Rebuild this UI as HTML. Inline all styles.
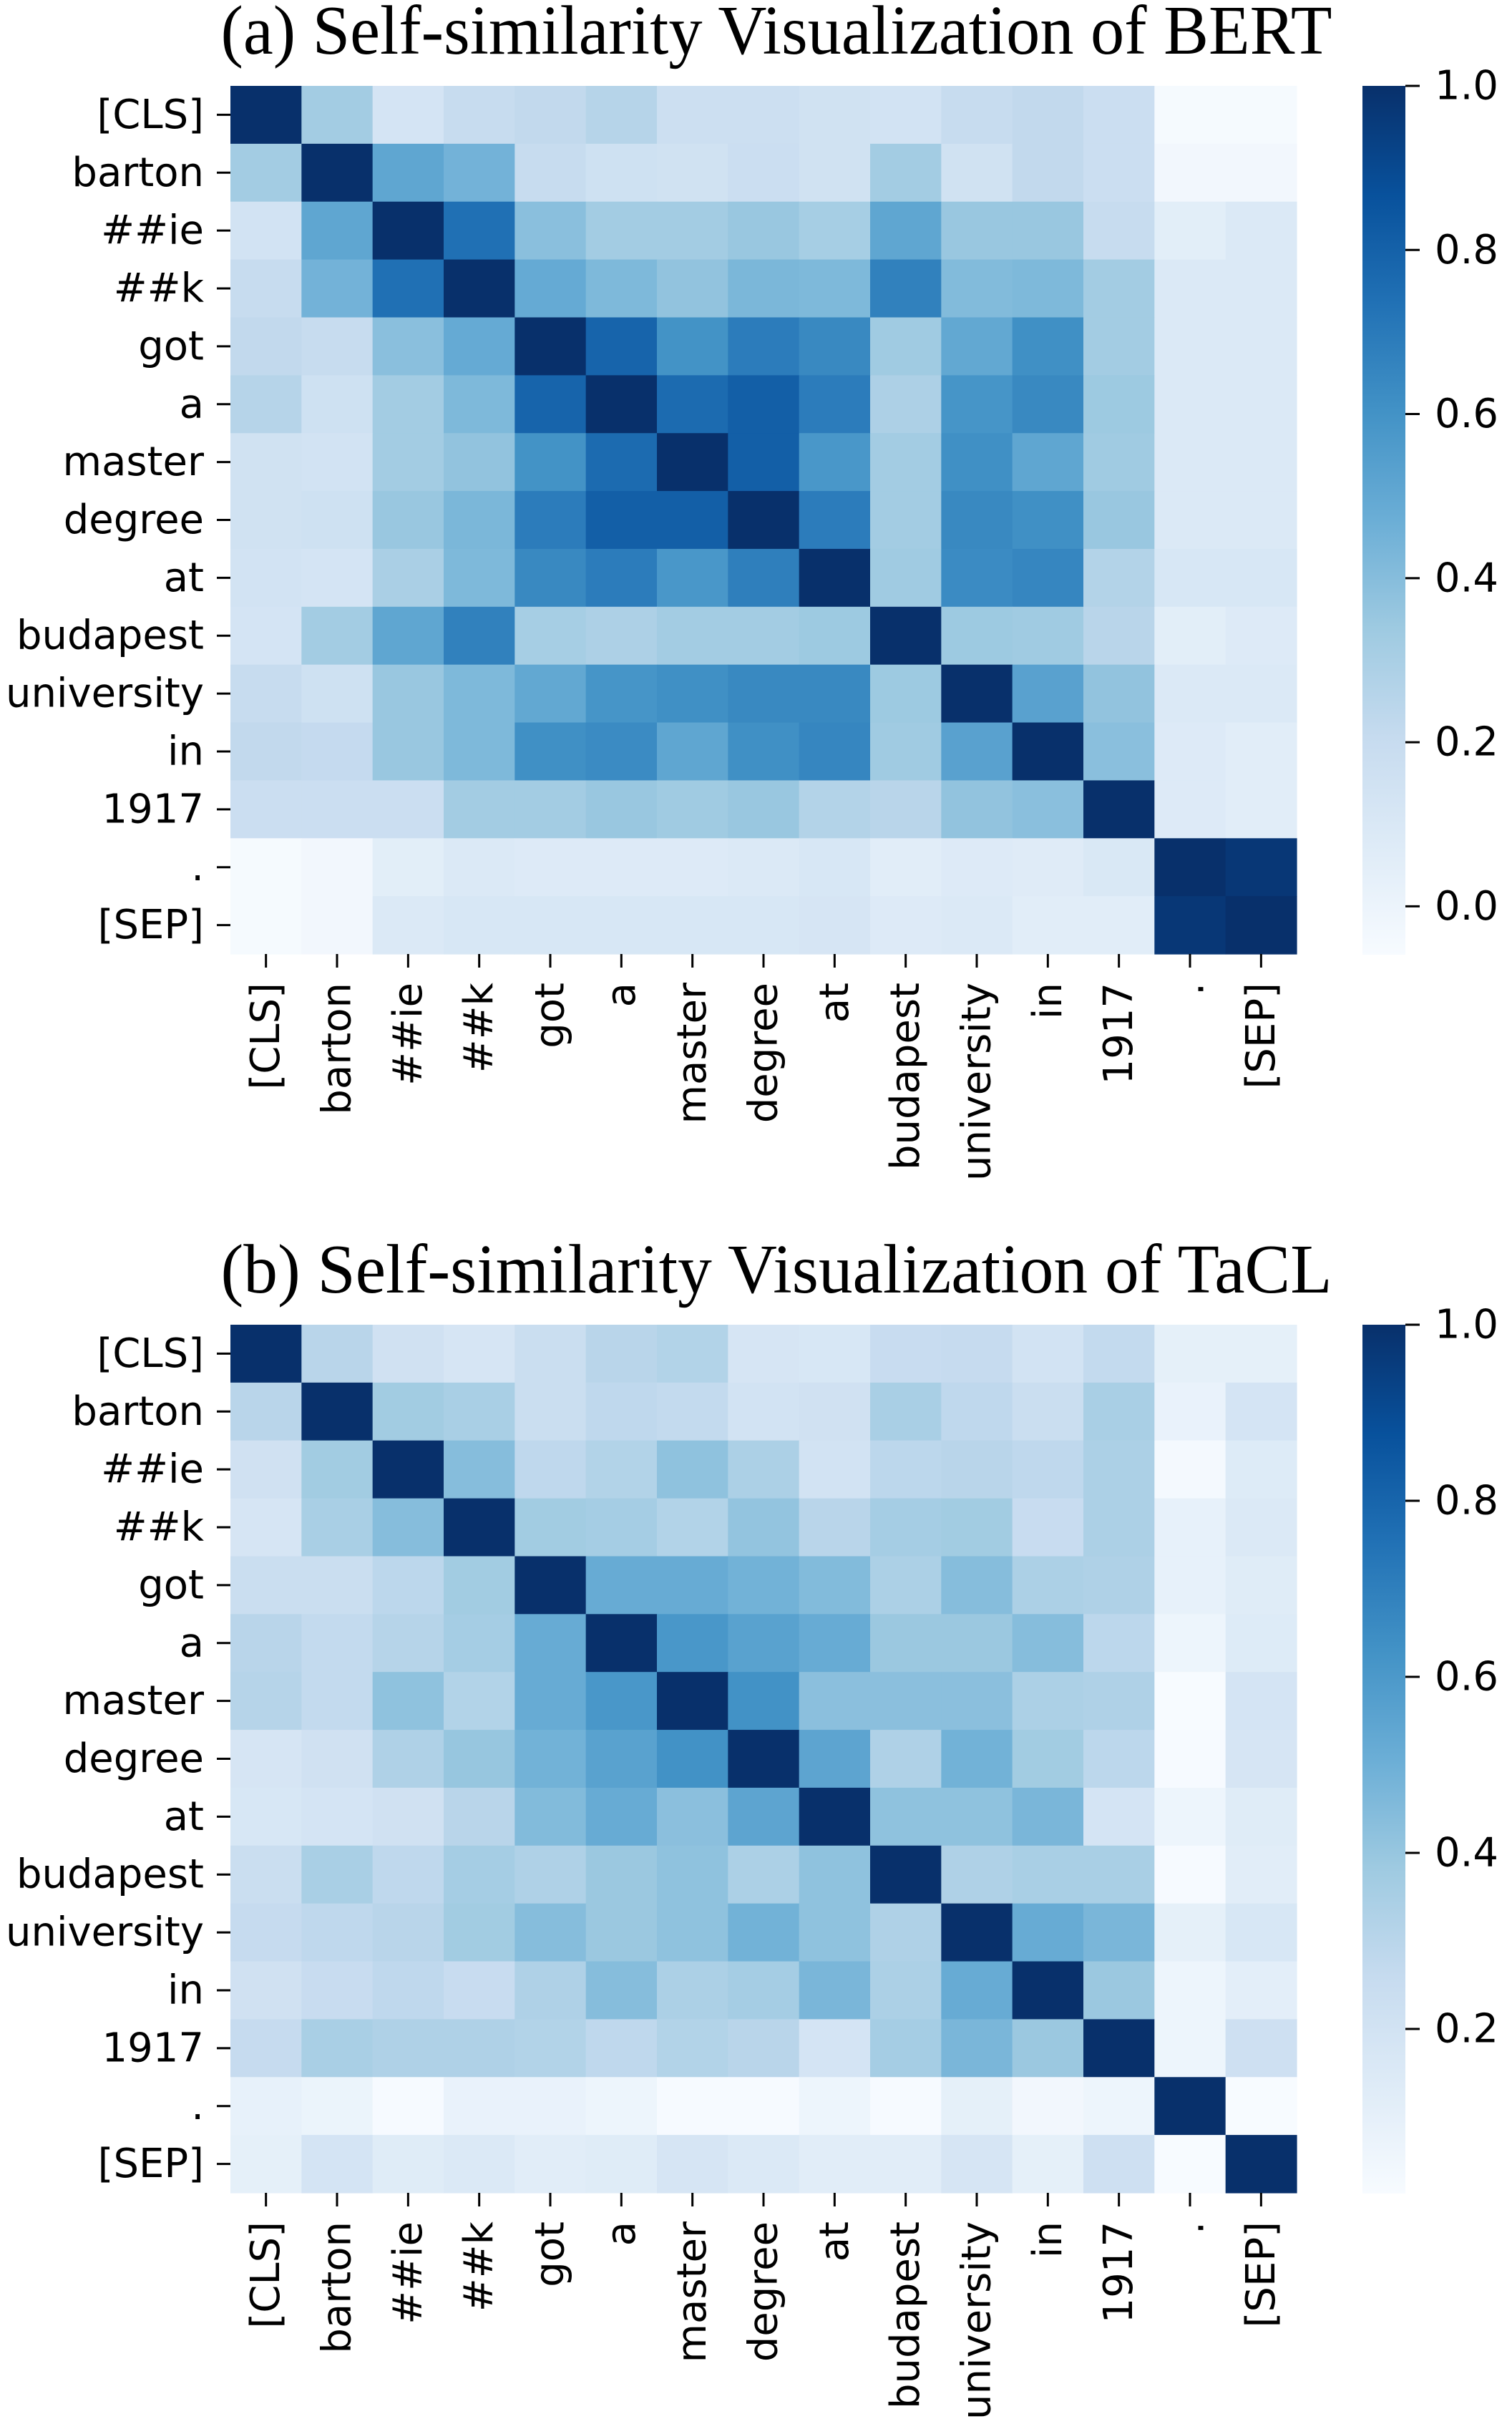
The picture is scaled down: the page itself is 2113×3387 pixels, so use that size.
<!DOCTYPE html>
<html><head><meta charset="utf-8"><style>
html,body{margin:0;padding:0;background:#fff;}
svg{display:block;}
.lbl{font-family:"DejaVu Sans","Liberation Sans",sans-serif;font-size:56px;fill:#000;}
.ttl{font-family:"Liberation Serif",serif;font-size:98px;fill:#000;}
</style></head><body>
<svg id="fig" xmlns="http://www.w3.org/2000/svg" width="2113" height="3387" viewBox="0 0 2113 3387">
<defs>
<linearGradient id="blues" x1="0" y1="1" x2="0" y2="0">
<stop offset="0" stop-color="rgb(247,251,255)"/><stop offset="0.125" stop-color="rgb(222,235,247)"/>
<stop offset="0.25" stop-color="rgb(198,219,239)"/><stop offset="0.375" stop-color="rgb(158,202,225)"/>
<stop offset="0.5" stop-color="rgb(107,174,214)"/><stop offset="0.625" stop-color="rgb(66,146,198)"/>
<stop offset="0.75" stop-color="rgb(33,113,181)"/><stop offset="0.875" stop-color="rgb(8,81,156)"/>
<stop offset="1" stop-color="rgb(8,48,107)"/>
</linearGradient>
</defs>
</svg>
<script>
const tokens = ["[CLS]","barton","##ie","##k","got","a","master","degree","at","budapest","university","in","1917",".","[SEP]"];
const bertValues = [
[1,0.32,0.13,0.20,0.22,0.26,0.17,0.17,0.15,0.14,0.20,0.22,0.18,-0.05,-0.05],
[0.32,1,0.51,0.45,0.20,0.16,0.15,0.18,0.15,0.32,0.15,0.22,0.18,-0.03,-0.03],
[0.14,0.51,1,0.74,0.39,0.32,0.32,0.35,0.31,0.51,0.35,0.35,0.20,0.05,0.09],
[0.20,0.45,0.74,1,0.49,0.42,0.37,0.43,0.42,0.67,0.41,0.42,0.32,0.09,0.09],
[0.22,0.20,0.39,0.49,1,0.79,0.60,0.69,0.64,0.33,0.50,0.61,0.32,0.09,0.09],
[0.26,0.16,0.32,0.42,0.79,1,0.76,0.81,0.69,0.29,0.59,0.64,0.34,0.09,0.09],
[0.15,0.14,0.32,0.37,0.60,0.76,1,0.81,0.58,0.32,0.61,0.51,0.33,0.09,0.09],
[0.15,0.16,0.35,0.43,0.69,0.81,0.81,1,0.69,0.32,0.64,0.61,0.35,0.09,0.09],
[0.14,0.13,0.30,0.42,0.64,0.69,0.58,0.68,1,0.33,0.63,0.65,0.27,0.11,0.11],
[0.13,0.32,0.51,0.67,0.31,0.29,0.32,0.32,0.34,1,0.34,0.33,0.25,0.05,0.08],
[0.20,0.16,0.35,0.42,0.50,0.59,0.61,0.64,0.64,0.34,1,0.53,0.37,0.09,0.09],
[0.22,0.21,0.35,0.42,0.61,0.63,0.51,0.61,0.65,0.33,0.53,1,0.39,0.08,0.06],
[0.18,0.18,0.18,0.32,0.32,0.35,0.33,0.35,0.27,0.25,0.37,0.39,1,0.08,0.06],
[-0.05,-0.03,0.05,0.09,0.08,0.08,0.08,0.09,0.11,0.06,0.08,0.07,0.10,1,0.97],
[-0.05,-0.03,0.09,0.11,0.11,0.11,0.11,0.11,0.12,0.08,0.09,0.06,0.06,0.97,1]];
const taclValues = [
[1,0.30,0.21,0.18,0.24,0.30,0.32,0.18,0.17,0.25,0.26,0.20,0.27,0.10,0.10],
[0.30,1,0.37,0.35,0.24,0.28,0.27,0.20,0.21,0.35,0.28,0.24,0.35,0.08,0.19],
[0.21,0.37,1,0.44,0.28,0.32,0.42,0.34,0.20,0.29,0.30,0.28,0.34,0.03,0.14],
[0.18,0.35,0.44,1,0.37,0.36,0.32,0.41,0.30,0.36,0.37,0.25,0.34,0.09,0.15],
[0.24,0.24,0.29,0.37,1,0.52,0.52,0.49,0.45,0.34,0.44,0.34,0.33,0.09,0.13],
[0.30,0.27,0.31,0.36,0.52,1,0.61,0.56,0.52,0.39,0.39,0.44,0.29,0.06,0.14],
[0.31,0.27,0.42,0.32,0.52,0.61,1,0.63,0.43,0.43,0.43,0.34,0.33,0.015,0.19],
[0.18,0.21,0.33,0.40,0.49,0.56,0.63,1,0.55,0.33,0.49,0.37,0.29,0.02,0.18],
[0.17,0.19,0.21,0.30,0.45,0.52,0.43,0.55,1,0.42,0.42,0.47,0.19,0.06,0.13],
[0.24,0.35,0.28,0.36,0.33,0.39,0.42,0.34,0.42,1,0.33,0.35,0.35,0.02,0.12],
[0.26,0.28,0.30,0.37,0.44,0.39,0.42,0.49,0.42,0.33,1,0.52,0.47,0.10,0.17],
[0.21,0.25,0.28,0.25,0.33,0.44,0.34,0.36,0.47,0.34,0.52,1,0.39,0.06,0.11],
[0.26,0.35,0.33,0.33,0.32,0.28,0.32,0.30,0.19,0.36,0.47,0.39,1,0.06,0.22],
[0.09,0.07,0.02,0.08,0.08,0.06,0.02,0.02,0.06,0.02,0.10,0.04,0.06,1,0.015],
[0.10,0.19,0.13,0.15,0.12,0.13,0.18,0.15,0.12,0.12,0.18,0.10,0.22,0.015,1]];
const bertTicks = [0.0,0.2,0.4,0.6,0.8,1.0];
const taclTicks = [0.2,0.4,0.6,0.8,1.0];
const bertRange = [-0.059, 1.0];
const taclRange = [0.013, 1.0];

const NS = "http://www.w3.org/2000/svg";
const svg = document.getElementById('fig');
const stops = [[247,251,255],[222,235,247],[198,219,239],[158,202,225],[107,174,214],[66,146,198],[33,113,181],[8,81,156],[8,48,107]];
function blues(t){
  t = Math.max(0, Math.min(1, t));
  const p = t*8, i = Math.min(7, Math.floor(p)), f = p - i;
  const a = stops[i], b = stops[i+1];
  return 'rgb(' + [0,1,2].map(k => Math.round(a[k] + (b[k]-a[k])*f)).join(',') + ')';
}
function mk(tag, attrs, parent){
  const e = document.createElementNS(NS, tag);
  for (const k in attrs) e.setAttribute(k, attrs[k]);
  (parent || svg).appendChild(e);
  return e;
}
function panel(prefix, dy, title, values, range, ticks){
  const g = mk('g', {});
  
  
  const X0 = 322, X1 = 1812, Y0 = 120 + dy, Y1 = 1333 + dy;
  const n = tokens.length, cw = (X1 - X0)/n, ch = (Y1 - Y0)/n;
  const colX = j => X0 + j*cw, rowY = i => Y0 + i*ch;
  const norm = v => (v - range[0])/(range[1] - range[0]);
  const t = mk('text', {x:1085, y:75+dy, 'text-anchor':'middle', class:'ttl', textLength:1553, lengthAdjust:'spacingAndGlyphs'}, g);
  t.textContent = title;
  
  
  for (let i = 0; i < n; i++) for (let j = 0; j < n; j++) {
    const r = mk('rect', {x:colX(j), y:rowY(i), width:cw+0.6, height:ch+0.6, fill:blues(norm(values[i][j]))}, g);
    
    
  }
  for (let i = 0; i < n; i++) {
    const cy = rowY(i) + ch/2;
    mk('line', {x1:303, x2:322, y1:cy, y2:cy, stroke:'#000', 'stroke-width':3}, g);
    const l = mk('text', {x:285, y:cy, 'text-anchor':'end', 'dominant-baseline':'central', class:'lbl'}, g);
    l.textContent = tokens[i];
    
    
  }
  for (let j = 0; j < n; j++) {
    const cx = colX(j) + cw/2;
    mk('line', {x1:cx, x2:cx, y1:Y1, y2:Y1+19, stroke:'#000', 'stroke-width':3}, g);
    const yy = Y1 + 40;
    const l = mk('text', {x:cx, y:yy, 'text-anchor':'end', 'dominant-baseline':'central', class:'lbl', transform:'rotate(-90 '+cx+' '+yy+')'}, g);
    l.textContent = tokens[j];
    
    
  }
  const CB0 = Y0, CB1 = Y1 + 1;
  const cb = mk('rect', {x:1904, y:CB0, width:60, height:CB1-CB0, fill:'url(#blues)'}, g);
  
  
  const cy = v => CB1 - norm(v)*(CB1-CB0);
  ticks.forEach(v => {
    const y = cy(v);
    mk('line', {x1:1964, x2:1984, y1:y, y2:y, stroke:'#000', 'stroke-width':3}, g);
    const l = mk('text', {x:2005, y:y, 'dominant-baseline':'central', class:'lbl'}, g);
    l.textContent = v.toFixed(1);
    
    
  });
}
panel('bert', 0, '(a) Self-similarity Visualization of BERT', bertValues, bertRange, bertTicks);
panel('tacl', 1731, '(b) Self-similarity Visualization of TaCL', taclValues, taclRange, taclTicks);
</script>
</body></html>
